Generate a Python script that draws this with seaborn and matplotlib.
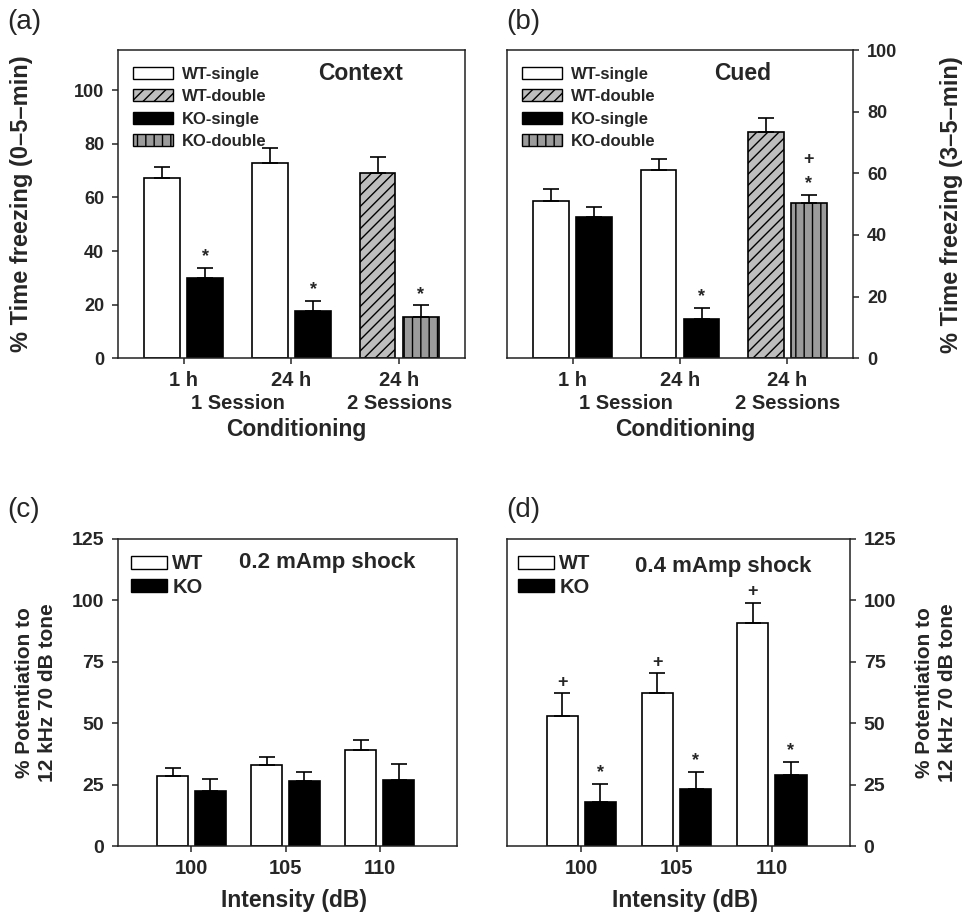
import numpy as np
import pandas as pd
import matplotlib
matplotlib.use("Agg")
import matplotlib.pyplot as plt
from matplotlib.patches import Patch
from matplotlib.transforms import blended_transform_factory
import seaborn as sns

# ---- data ----
genotypes = ["WT", "KO"]

cond_keys = ["1h_1session", "24h_1session", "24h_2sessions"]
cond_ticklabels = ["1 h", "24 h", "24 h"]
session_names = ["1 Session", "1 Session", "2 Sessions"]

context_wt = [67.3, 73.0, 69.0]
context_wt_err = [4.0, 5.5, 6.2]
context_ko = [30.0, 17.6, 15.4]
context_ko_err = [3.8, 3.7, 4.3]
context_wt_marks = ["", "", ""]
context_ko_marks = ["*", "*", "*"]

cued_wt = [50.9, 61.1, 73.3]
cued_wt_err = [3.9, 3.5, 4.6]
cued_ko = [45.8, 12.8, 50.5]
cued_ko_err = [3.2, 3.6, 2.6]
cued_wt_marks = ["", "", ""]
cued_ko_marks = ["", "*", "+\n*"]

intensity = ["100", "105", "110"]
shock02_wt = [28.6, 33.0, 39.1]
shock02_wt_err = [3.3, 3.4, 4.1]
shock02_ko = [22.4, 26.6, 26.9]
shock02_ko_err = [4.9, 3.7, 6.5]
shock04_wt = [52.9, 62.4, 90.7]
shock04_wt_err = [9.2, 7.9, 8.4]
shock04_ko = [18.1, 23.1, 28.8]
shock04_ko_err = [7.0, 6.9, 5.6]
shock04_wt_marks = ["+", "+", "+"]
shock04_ko_marks = ["*", "*", "*"]

double_colors = {"WT": "#bdbdbd", "KO": "#9b9b9b"}
double_hatch = {"WT": "///", "KO": "||"}

sns.set_style("ticks")
plt.rcParams["font.family"] = ["Liberation Sans", "DejaVu Sans"]
plt.rcParams["font.weight"] = "bold"
plt.rcParams["axes.labelweight"] = "bold"
plt.rcParams["axes.edgecolor"] = "#222222"
plt.rcParams["axes.linewidth"] = 1.1
plt.rcParams["hatch.linewidth"] = 1.0


def draw_bars(ax, keys, wt, wt_err, ko, ko_err, wt_marks=None, ko_marks=None):
    df = pd.DataFrame({
        "group": keys * 2,
        "genotype": ["WT"] * len(keys) + ["KO"] * len(keys),
        "value": wt + ko,
    })
    sns.barplot(data=df, x="group", y="value", hue="genotype", order=keys,
                hue_order=genotypes, palette={"WT": "white", "KO": "black"},
                edgecolor="black", linewidth=1.2, width=0.8, gap=0.175,
                errorbar=None, legend=False, ax=ax)
    for cont, errs, marks in zip(ax.containers, [wt_err, ko_err], [wt_marks, ko_marks]):
        for i, (bar, e) in enumerate(zip(cont, errs)):
            x = bar.get_x() + bar.get_width() / 2
            h = bar.get_height()
            ax.errorbar(x, h, yerr=[[0], [e]], fmt="none", ecolor="black",
                        elinewidth=1.2, capsize=5.5, capthick=1.2, zorder=3)
            if marks and marks[i]:
                ax.annotate(marks[i], (x, h + e), xytext=(0, 2), textcoords="offset points",
                            ha="center", va="bottom", fontsize=13, linespacing=1.5)
    return ax.containers


def style_axis(ax, ylim, yticks, xlim, ticklabels, side="left", tsize=13, xsize=14.5):
    ax.set_ylim(*ylim)
    ax.set_yticks(yticks)
    ax.set_xlim(*xlim)
    ax.set_xticks(range(len(ticklabels)))
    ax.set_xticklabels(ticklabels)
    ax.tick_params(axis="y", labelsize=tsize, length=4, width=1.1, pad=6)
    ax.tick_params(axis="x", labelsize=xsize, length=4, width=1.1, pad=5)
    if side == "right":
        ax.yaxis.tick_right()
        ax.yaxis.set_label_position("right")
    for s in ax.spines.values():
        s.set_visible(True)


fig = plt.figure(figsize=(9.63, 9.16), dpi=100)
ax_a = fig.add_axes([0.1225, 0.609, 0.3603, 0.3362])
ax_b = fig.add_axes([0.5265, 0.609, 0.3593, 0.3362])
ax_c = fig.add_axes([0.1225, 0.0764, 0.352, 0.3352])
ax_d = fig.add_axes([0.5265, 0.0764, 0.356, 0.3352])

cond_legend = [
    Patch(facecolor="white", edgecolor="black", label="WT-single"),
    Patch(facecolor=double_colors["WT"], edgecolor="black", hatch=double_hatch["WT"], label="WT-double"),
    Patch(facecolor="black", edgecolor="black", label="KO-single"),
    Patch(facecolor=double_colors["KO"], edgecolor="black", hatch=double_hatch["KO"], label="KO-double"),
]

# ---- (a) context and (b) cued ----
for ax, wt, wte, ko, koe, wm, km, title, ylabel, side, ylim in [
    (ax_a, context_wt, context_wt_err, context_ko, context_ko_err, context_wt_marks,
     context_ko_marks, "Context", "% Time freezing (0\u20135\u2013min)", "left", (0, 115)),
    (ax_b, cued_wt, cued_wt_err, cued_ko, cued_ko_err, cued_wt_marks,
     cued_ko_marks, "Cued", "% Time freezing (3\u20135\u2013min)", "right", (0, 100)),
]:
    conts = draw_bars(ax, cond_keys, wt, wte, ko, koe, wm, km)
    for g, cont in zip(genotypes, conts):
        for bar, sess in zip(cont, session_names):
            if sess == "2 Sessions":
                bar.set_facecolor(double_colors[g])
                bar.set_hatch(double_hatch[g])
    style_axis(ax, ylim, np.arange(0, 101, 20), (-0.61, 2.61), cond_ticklabels, side)
    ax.set_xlabel("Conditioning", fontsize=16.5)
    ax.xaxis.set_label_coords(0.515, -0.195)
    ax.set_ylabel(ylabel, fontsize=17)
    if side == "left":
        ax.yaxis.set_label_coords(-0.245, 0.5)
    else:
        ax.yaxis.set_label_coords(1.251, 0.5)
    trans = blended_transform_factory(ax.transData, ax.transAxes)
    for name in dict.fromkeys(session_names):
        idx = [i for i, s in enumerate(session_names) if s == name]
        ax.text(np.mean(idx), -0.148, name, transform=trans, ha="center", va="center",
                fontsize=14.5)
    ax.text(0.70 if side == "left" else 0.68, 0.924, title, transform=ax.transAxes,
            ha="center", va="center", fontsize=16.5)
    ax.legend(handles=cond_legend, loc="upper left", bbox_to_anchor=(0.043, 0.947),
              frameon=False, borderaxespad=0, borderpad=0, fontsize=12,
              handlelength=2.4, handleheight=0.75, labelspacing=0.45, handletextpad=0.55)

# ---- (c) 0.2 mAmp and (d) 0.4 mAmp ----
shock_legend = [
    Patch(facecolor="white", edgecolor="black", label="WT"),
    Patch(facecolor="black", edgecolor="black", label="KO"),
]
for ax, wt, wte, ko, koe, wm, km, title, side, tpos, lx in [
    (ax_c, shock02_wt, shock02_wt_err, shock02_ko, shock02_ko_err, None, None,
     "0.2 mAmp shock", "left", (0.617, 0.925), 0.038),
    (ax_d, shock04_wt, shock04_wt_err, shock04_ko, shock04_ko_err, shock04_wt_marks,
     shock04_ko_marks, "0.4 mAmp shock", "right", (0.63, 0.909), 0.032),
]:
    draw_bars(ax, intensity, wt, wte, ko, koe, wm, km)
    style_axis(ax, (0, 125), np.arange(0, 126, 25), (-0.78, 2.82), intensity, side,
               tsize=14, xsize=14.5)
    ax.set_xlabel("Intensity (dB)", fontsize=16.5)
    ax.xaxis.set_label_coords(0.52, -0.14)
    ax.set_ylabel("% Potentiation to\n12 kHz 70 dB tone", fontsize=15, multialignment="center",
                  linespacing=1.25)
    if side == "left":
        ax.yaxis.set_label_coords(-0.18, 0.5)
    else:
        ax.yaxis.set_label_coords(1.19, 0.5)
    ax.text(*tpos, title, transform=ax.transAxes, ha="center", va="center", fontsize=16)
    ax.legend(handles=shock_legend, loc="upper left", bbox_to_anchor=(lx, 0.95),
              frameon=False, borderaxespad=0, borderpad=0, fontsize=14.5,
              handlelength=1.8, handleheight=0.65, labelspacing=0.22, handletextpad=0.25)

for label, x, y in [("(a)", 0.008, 0.976), ("(b)", 0.526, 0.976),
                    ("(c)", 0.008, 0.443), ("(d)", 0.526, 0.443)]:
    fig.text(x, y, label, fontsize=20, fontweight="normal", ha="left", va="center")

fig.savefig("out.png", dpi=100)
